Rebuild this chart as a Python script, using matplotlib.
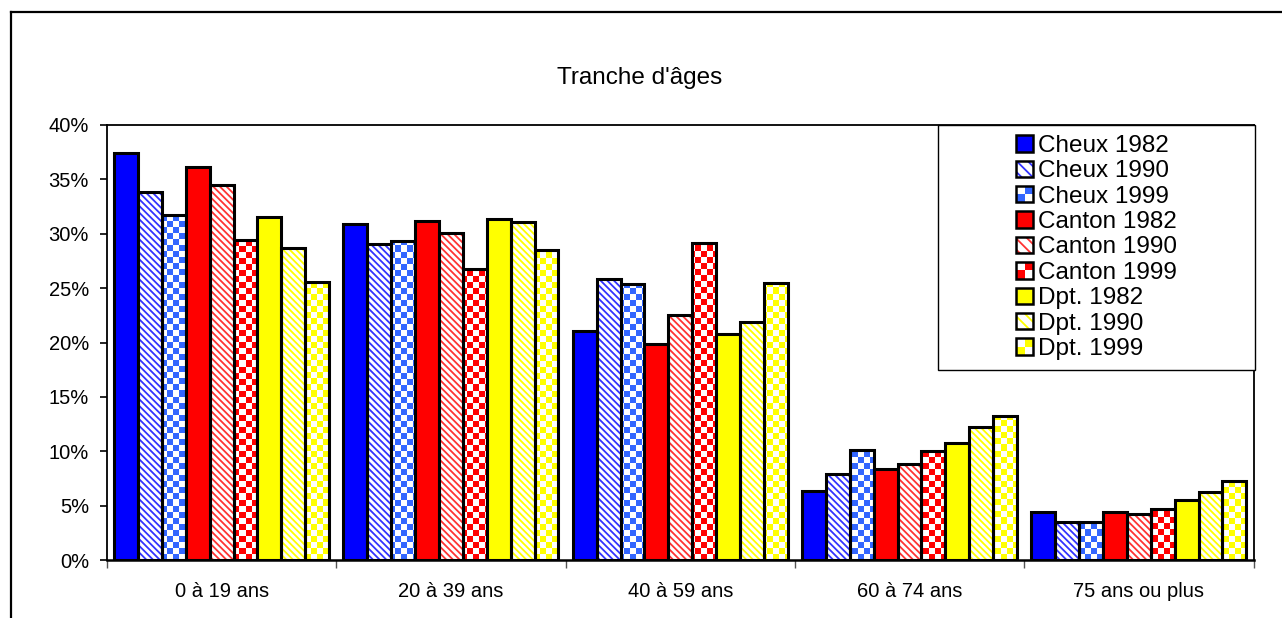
import numpy as np
import matplotlib
matplotlib.use("Agg")
import matplotlib.pyplot as plt
from matplotlib.patches import Rectangle
from matplotlib.colors import ListedColormap
from matplotlib.legend_handler import HandlerBase
from matplotlib.lines import Line2D

# ---- data (percent of population per age band) ----
categories = ["0 à 19 ans", "20 à 39 ans", "40 à 59 ans", "60 à 74 ans", "75 ans ou plus"]
series_names = ["Cheux 1982", "Cheux 1990", "Cheux 1999",
                "Canton 1982", "Canton 1990", "Canton 1999",
                "Dpt. 1982", "Dpt. 1990", "Dpt. 1999"]
cheux_1982 = [37.4, 30.9, 21.1, 6.3, 4.45]
cheux_1990 = [33.8, 29.05, 25.8, 7.9, 3.45]
cheux_1999 = [31.75, 29.3, 25.35, 10.1, 3.45]
canton_1982 = [36.1, 31.2, 19.9, 8.4, 4.45]
canton_1990 = [34.45, 30.1, 22.5, 8.8, 4.2]
canton_1999 = [29.4, 26.8, 29.15, 10.0, 4.7]
dpt_1982 = [31.5, 31.4, 20.8, 10.8, 5.5]
dpt_1990 = [28.65, 31.1, 21.9, 12.2, 6.25]
dpt_1999 = [25.6, 28.5, 25.5, 13.25, 7.25]
y_ticks = [0, 5, 10, 15, 20, 25, 30, 35, 40]

series_values = [cheux_1982, cheux_1990, cheux_1999,
                 canton_1982, canton_1990, canton_1999,
                 dpt_1982, dpt_1990, dpt_1999]

# fill style of each series: solid, diagonal stripes or checkerboard
series_styles = [("solid", "#0000FF"), ("stripe", "#3333FF"), ("checker", "#3366FF"),
                 ("solid", "#FF0000"), ("stripe", "#FF3333"), ("checker", "#FF0000"),
                 ("solid", "#FFFF00"), ("stripe", "#FFFF00"), ("checker", "#FFFF00")]

plt.rcParams["font.family"] = ["Liberation Sans", "DejaVu Sans"]
plt.rcParams["hatch.linewidth"] = 1.3

W, H = 1282, 618
fig = plt.figure(figsize=(W / 100, H / 100), dpi=100)
fig.patch.set_facecolor("white")

ax_left, ax_right, ax_top, ax_bottom = 107, 1253.5, 125, 560
ax = fig.add_axes([ax_left / W, 1 - ax_bottom / H,
                   (ax_right - ax_left) / W, (ax_bottom - ax_top) / H])

x = np.arange(len(categories))
n = len(series_values)
bar_w = 0.1042
edge_lw = 2.2
stripe_hatch = "\\" * 5

# checkerboard bitmap spanning the whole plot area (about 6 px per cell)
cell_px = 6.0
n_cols = int(round((ax_right - ax_left) / cell_px))
n_rows = int(round((ax_bottom - ax_top) / cell_px))
checker = (np.add.outer(np.arange(n_rows), np.arange(n_cols)) % 2).astype(float)

containers = []
for i, (vals, (kind, color)) in enumerate(zip(series_values, series_styles)):
    pos = x + (i - (n - 1) / 2) * bar_w
    if kind == "solid":
        bc = ax.bar(pos, vals, bar_w, facecolor=color, edgecolor="black",
                    linewidth=edge_lw, zorder=4)
    elif kind == "stripe":
        bc = ax.bar(pos, vals, bar_w, facecolor="white", edgecolor=color,
                    hatch=stripe_hatch, linewidth=0, zorder=2)
        ax.bar(pos, vals, bar_w, facecolor="none", edgecolor="black",
               linewidth=edge_lw, zorder=4)
    else:
        bc = ax.bar(pos, vals, bar_w, facecolor="white", linewidth=0, zorder=2)
        cmap = ListedColormap(["white", color])
        for patch in bc.patches:
            im = ax.imshow(checker, cmap=cmap, vmin=0, vmax=1, aspect="auto",
                           interpolation="nearest", extent=(0, 1, 0, 1),
                           transform=ax.transAxes, origin="lower", zorder=3)
            im.set_clip_path(patch)
        ax.bar(pos, vals, bar_w, facecolor="none", edgecolor="black",
               linewidth=edge_lw, zorder=4)
    containers.append(bc)

ax.set_xlim(-0.5, len(categories) - 0.5)
ax.set_ylim(y_ticks[0], y_ticks[-1])

# axes styling
for side in ["left", "top", "right"]:
    ax.spines[side].set_linewidth(1.3)
    ax.spines[side].set_color("black")
ax.spines["bottom"].set_linewidth(1.8)
ax.spines["bottom"].set_color("black")

ax.set_yticks(y_ticks)
ax.set_yticklabels([f"{v}%" for v in y_ticks])
ax.tick_params(axis="y", direction="out", length=5, width=1.2, pad=8,
               labelsize=14.5, colors="black")

ax.set_xticks(x)
ax.set_xticklabels(categories)
ax.set_xticks(np.arange(len(categories) + 1) - 0.5, minor=True)
ax.tick_params(axis="x", which="major", length=0, pad=16, labelsize=14.5)
ax.tick_params(axis="x", which="minor", direction="out", length=6, width=1.0,
               color="#555555")

# title
fig.text(640 / W, 1 - 78 / H, "Tranche d'âges", ha="center", va="center",
         fontsize=17.5, color="black")

# outer chart frame
frame_kw = dict(color="black", linewidth=1.6, transform=fig.transFigure)
fig.add_artist(Line2D([11 / W, 11 / W], [0, 1 - 12 / H], **frame_kw))
fig.add_artist(Line2D([11 / W, 1.0], [1 - 12 / H, 1 - 12 / H], **frame_kw))


# legend swatches
class SwatchHandler(HandlerBase):
    def __init__(self, kind, color):
        super().__init__()
        self.kind = kind
        self.color = color

    def create_artists(self, legend, orig_handle, xdescent, ydescent,
                       width, height, fontsize, trans):
        s = min(width, height)
        x0 = -xdescent + (width - s) / 2
        y0 = -ydescent + (height - s) / 2
        arts = []
        if self.kind == "solid":
            arts.append(Rectangle((x0, y0), s, s, facecolor=self.color,
                                  edgecolor="none", transform=trans))
        elif self.kind == "stripe":
            arts.append(Rectangle((x0, y0), s, s, facecolor="white",
                                  edgecolor=self.color, hatch="\\\\\\",
                                  linewidth=0, transform=trans))
        else:
            arts.append(Rectangle((x0, y0), s, s, facecolor="white",
                                  edgecolor="none", transform=trans))
            c = s / 2
            arts.append(Rectangle((x0, y0), c, c, facecolor=self.color,
                                  edgecolor="none", transform=trans))
            arts.append(Rectangle((x0 + c, y0 + c), c, c, facecolor=self.color,
                                  edgecolor="none", transform=trans))
        arts.append(Rectangle((x0, y0), s, s, facecolor="none",
                              edgecolor="black", linewidth=1.8, transform=trans))
        return arts


lg_left, lg_right, lg_top, lg_bottom = 938, 1255, 125, 370
box = Rectangle((lg_left / W, 1 - lg_bottom / H), (lg_right - lg_left) / W,
                (lg_bottom - lg_top) / H, transform=fig.transFigure,
                facecolor="white", edgecolor="black", linewidth=1.0, zorder=5)
fig.add_artist(box)

handler_map = {bc: SwatchHandler(k, c) for bc, (k, c) in zip(containers, series_styles)}
leg = fig.legend(containers, series_names, handler_map=handler_map,
                 loc="center",
                 bbox_to_anchor=((lg_left + lg_right) / 2 / W,
                                 1 - (lg_top + lg_bottom) / 2 / H),
                 frameon=False, fontsize=17.5, handlelength=0.68, handleheight=0.68,
                 handletextpad=0.2, labelspacing=0.14, borderpad=0)
leg.set_zorder(6)

fig.savefig("out.png", dpi=100, facecolor="white")
